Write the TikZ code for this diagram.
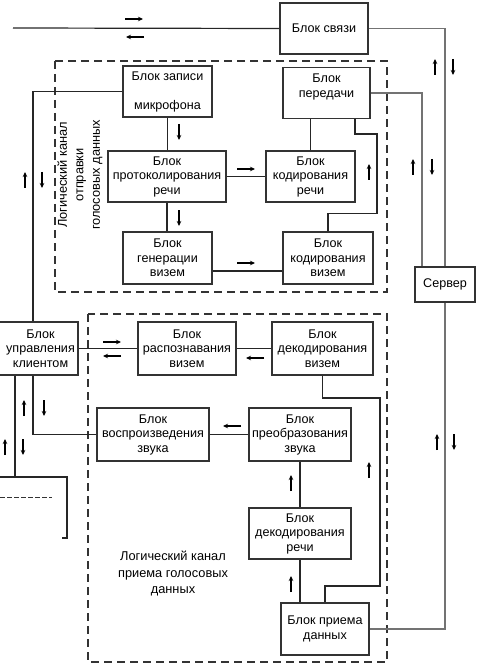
\documentclass[tikz,border=0pt]{standalone}
\usepackage{fontspec}
\setmainfont{Liberation Sans}
\usetikzlibrary{positioning, calc, arrows.meta}

\begin{document}
\begin{tikzpicture}[
    x=1pt, y=-1pt,
    every node/.style={align=center},
    blok/.style={rectangle, draw=black!80, line width=1.7pt, fill=white, font=\fontsize{12.6}{14.5}\selectfont, inner sep=1pt},
    tekst/.style={font=\fontsize{12.6}{14.5}\selectfont, inner sep=1pt},
    kanal/.style={draw=black!80, line width=1.3pt, dash pattern=on 8pt off 5pt},
    line/.style={black!85, line width=1.2pt},
    svyazline/.style={black!55, line width=1.8pt},
    metka/.style={-{Stealth[length=5pt, width=4.5pt]}, line width=1.2pt},
    podpis/.style={font=\fontsize{12.8}{16.5}\selectfont}
]
\useasboundingbox (0,0) rectangle (479,668);

% Channels
\draw[kanal] (55,61) rectangle (387,292);
\draw[kanal] (88,314) rectangle (387,662);
\node[podpis, rotate=90] (sendlabel) at (80,175) {Логический канал\\отправки\\голосовых данных};
\node[podpis] (recvlabel) at (173,574) {Логический канал\\приема голосовых\\данных};

% Nodes
\node[blok, minimum width=88, minimum height=51] (svyaz) at (324,28.5) {Блок связи};
\node[blok, minimum width=89, minimum height=51] (zapis) at (167.5,91.5) {Блок записи\\\mbox{}\\микрофона};
\node[blok, minimum width=87, minimum height=51] (peredacha) at (326.5,93) {Блок\\передачи\\\mbox{}};
\node[blok, minimum width=118, minimum height=51] (protokol) at (167,176.5) {Блок\\протоколирования\\речи};
\node[blok, minimum width=89, minimum height=51] (kodrech) at (310.5,176.5) {Блок\\кодирования\\речи};
\node[blok, minimum width=89, minimum height=52] (generacia) at (167.5,258) {Блок\\генерации\\визем};
\node[blok, minimum width=90, minimum height=52] (kodvizem) at (328,258) {Блок\\кодирования\\визем};
\node[blok, minimum width=60, minimum height=35] (server) at (445,284.5) {Сервер};
\node[blok, minimum width=92, minimum height=53] (upravl) at (32,348.5) {};
\node[tekst] (upravltext) at (40.5,348.5) {Блок\\управления\\клиентом};
\node[blok, minimum width=98, minimum height=53] (raspozn) at (187,348.5) {Блок\\распознавания\\визем};
\node[blok, minimum width=101, minimum height=53] (dekodvizem) at (322.5,348.5) {Блок\\декодирования\\визем};
\node[blok, minimum width=112, minimum height=53] (vosprozv) at (153,434.5) {Блок\\воспроизведения\\звука};
\node[blok, minimum width=102, minimum height=53] (preobr) at (300,434.5) {Блок\\преобразования\\звука};
\node[blok, minimum width=102, minimum height=51] (dekodrech) at (300,533.5) {Блок\\декодирования\\речи};
\node[blok, minimum width=88, minimum height=52] (priem) at (325,629) {Блок приема\\данных};

% Cut block at the left edge
\coordinate (vhod) at (13,28);
\coordinate (vyvod) at (15,477);
\draw[line] (-20,477) -- (67,477) -- (67,538) -- (62,538);
\draw[black!80, line width=0.8pt, dash pattern=on 5pt off 2pt] (0,497) -- (52,497);

% Arrows
\draw[line] (vhod) -- (svyaz.west);
\draw[svyazline] (svyaz.east) -| (server.north);
\draw[svyazline] (peredacha.east) -| ([xshift=8pt]server.north west);
\draw[line] (zapis.west) -| ([xshift=1pt]upravl.north);
\draw[line] (zapis.south) -- (zapis.south |- protokol.north);
\draw[line] (protokol.south) -- (protokol.south |- generacia.north);
\draw[line] (protokol.east) -- (kodrech.west);
\draw[line] ([yshift=-13pt]generacia.east) -- ([yshift=-13pt]kodvizem.west);
\draw[line] (kodrech.north) -- (kodrech.north |- peredacha.south);
\draw[line] (kodvizem.north) -- ++(0,-18) -| (377,134) -| ([xshift=28.5pt]peredacha.south);
\draw[line] (upravl.east) -- (raspozn.west);
\draw[line] (dekodvizem.west) -- (raspozn.east);
\draw[line] (dekodvizem.south) |- (380,398) |- (325,586) -- (priem.north);
\draw[line] (preobr.west) -- (vosprozv.east);
\draw[line] ([xshift=1pt]upravl.south) |- (vosprozv.west);
\draw[line] ([xshift=-17pt]upravl.south) -- (vyvod);
\draw[line] (dekodrech.south) -- (dekodrech.south |- priem.north);
\draw[line] (dekodrech.north) -- (preobr.south);
\draw[svyazline] (server.south) |- (priem.east);

% Direction marks
\foreach \x/\y in {435/67, 413/167, 25/180, 369/172, 24/408, 5/447, 437/442, 369/470, 291/483, 291/584}
    \draw[metka] (\x,\y+8) -- (\x,\y-8);
\foreach \x/\y in {453/67, 432/167, 42/180, 179/132, 179/218, 44/408, 23/447, 454/442}
    \draw[metka] (\x,\y-8) -- (\x,\y+8);
\foreach \x/\y in {134/19, 246/169, 246/263, 112/342}
    \draw[metka] (\x-9,\y) -- (\x+9,\y);
\foreach \x/\y in {135/37, 112/356, 255/358, 232/426}
    \draw[metka] (\x+9,\y) -- (\x-9,\y);

\end{tikzpicture}
\end{document}
